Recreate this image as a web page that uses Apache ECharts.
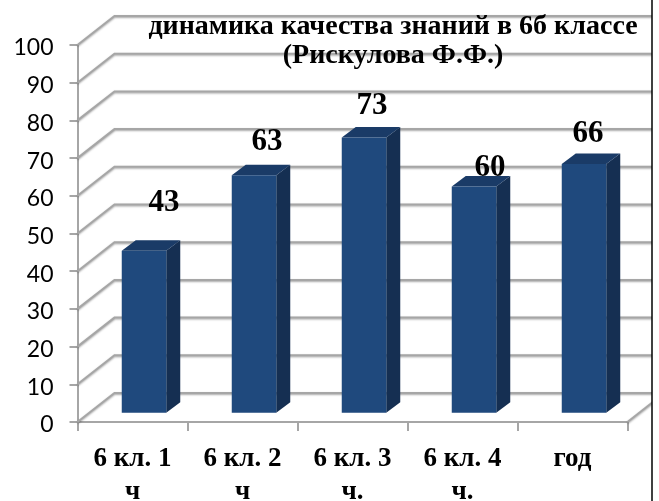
<!DOCTYPE html>
<html>
<head>
<meta charset="utf-8">
<style>html,body{margin:0;padding:0;background:#fff}#c{width:659px;height:501px}</style>
<script src="https://cdn.jsdelivr.net/npm/echarts@6/dist/echarts.min.js"></script>
</head>
<body>
<div id="c"></div>
<script>
const titleText = 'динамика качества знаний в 6б классе\n(Рискулова Ф.Ф.)';
const categories = ['6 кл. 1 ч', '6 кл. 2 ч', '6 кл. 3 ч.', '6 кл. 4 ч.', 'год'];
const values = [43, 63, 73, 60, 66];
const yTicks = [0, 10, 20, 30, 40, 50, 60, 70, 80, 90, 100];
// hand-placed data label offsets, as in the original
const labelNudges = [[20, -48], [13, -33], [8, -32], [16, -19], [4, -30]];

const DX = 37, DY = 29;           // wall depth
const BDX = 14, BDY = 10.5;       // bar depth
const barW = 44.5;
const lineStyle = {stroke: '#a6a6a6', lineWidth: 2, fill: null,
  shadowColor: 'rgba(0,0,0,0.35)', shadowBlur: 2, shadowOffsetY: 1};

function wall(params, api) {
  const cs = params.coordSys;
  const v = api.value(1);
  const y = api.coord([0, v])[1];
  const x0 = cs.x, x1 = cs.x + cs.width;
  const kids = [{type: 'polyline', shape: {points: [[x0, y], [x0 + DX, y - DY], [x1 + DX, y - DY]]}, style: lineStyle}];
  if (v === 0) {
    kids.push({type: 'line', shape: {x1: x1, y1: y, x2: x1 + DX, y2: y - DY}, style: lineStyle});
  }
  return {type: 'group', children: kids};
}

function bar(params, api) {
  const c = api.coord([api.value(0), api.value(1)]);
  const base = api.coord([api.value(0), 0]);
  const ox = (DX - BDX) / 2, oy = (DY - BDY) / 2;
  const l = c[0] + ox - barW / 2, r = l + barW, t = c[1] - oy, b = base[1] - oy;
  const n = labelNudges[params.dataIndex];
  return {type: 'group', children: [
    {type: 'polygon', shape: {points: [[r, t], [r + BDX, t - BDY], [r + BDX, b - BDY], [r, b]]}, style: {fill: '#152f52'}},
    {type: 'polygon', shape: {points: [[l, t], [l + BDX, t - BDY], [r + BDX, t - BDY], [r, t]]}, style: {fill: '#1a3b67'}},
    {type: 'rect', shape: {x: l, y: t, width: barW, height: b - t}, style: {fill: '#1f497d'}},
    {type: 'text', style: {text: String(api.value(1)), x: l + barW / 2 + n[0], y: t + n[1],
      align: 'center', verticalAlign: 'middle', fill: '#000',
      font: 'bold 31px "Liberation Serif"'}}
  ]};
}

const chart = echarts.init(document.getElementById('c'), null, {renderer: 'canvas'});
chart.setOption({
  animation: false,
  backgroundColor: '#fff',
  title: {
    text: titleText, left: 388, top: 7, textAlign: 'center', z: 20,
    textStyle: {fontFamily: 'Liberation Serif', fontWeight: 'bold', fontSize: 28, lineHeight: 29, color: '#000'}
  },
  grid: {left: 77.5, right: 31.5, top: 45, bottom: 79, outerBoundsMode: 'none'},
  xAxis: {
    type: 'category', data: categories,
    axisLine: {lineStyle: {color: '#a6a6a6', width: 2}},
    axisTick: {show: true, length: 9, alignWithLabel: false, lineStyle: {color: '#a6a6a6', width: 2}},
    axisLabel: {
      interval: 0, margin: 21,
      formatter: s => s.replace(/ (\S+)$/, '\n$1'),
      color: '#000', fontFamily: 'Liberation Serif', fontWeight: 'bold', fontSize: 27, lineHeight: 33
    }
  },
  yAxis: {
    type: 'value', min: 0, max: 100, interval: 10,
    splitLine: {show: false},
    axisLine: {show: true, lineStyle: {color: '#a6a6a6', width: 2}},
    axisTick: {show: true, length: 8, lineStyle: {color: '#a6a6a6', width: 2}},
    axisLabel: {margin: 24, verticalAlign: 'top', lineHeight: 6, color: '#000', fontFamily: 'Lato', fontSize: 23}
  },
  series: [
    {type: 'custom', z: 1, clip: false, silent: true, renderItem: wall,
     encode: {x: 0, y: 1}, data: yTicks.map(v => [0, v])},
    {type: 'custom', z: 5, clip: false, silent: true, renderItem: bar,
     encode: {x: 0, y: 1}, data: values.map((v, i) => [i, v])}
  ],
  graphic: [
    {type: 'rect', z: 100, shape: {x: 652, y: 0, width: 7, height: 501}, style: {fill: '#fff'}},
    {type: 'line', z: 101, shape: {x1: 652, y1: 0, x2: 652, y2: 501}, style: {stroke: '#000', lineWidth: 1.5}}
  ]
});
</script>
</body>
</html>
